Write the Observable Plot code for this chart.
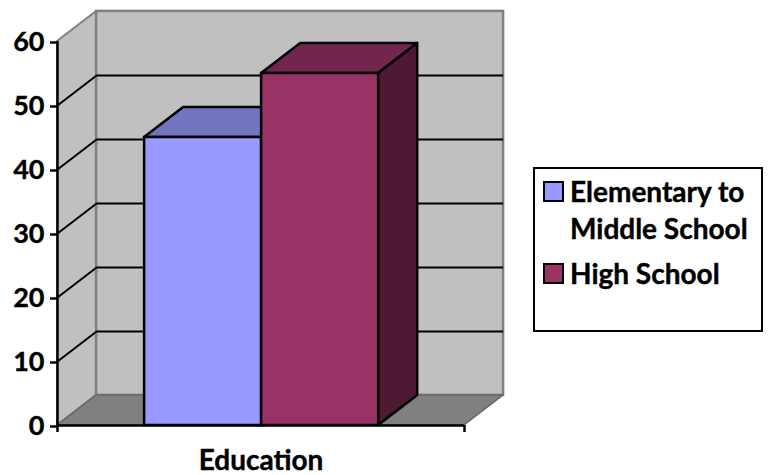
<!DOCTYPE html>
<html>
<head>
<meta charset="utf-8">
<script src="https://cdn.jsdelivr.net/npm/d3@7"></script>
<script src="https://cdn.jsdelivr.net/npm/@observablehq/plot@0.6"></script>
<style>
  html, body { margin: 0; padding: 0; background: #fff; }
  #chart { position: relative; width: 768px; height: 475px; overflow: hidden; font-family: Lato, sans-serif; font-weight: 700; color: #000; }
  #chart svg text { stroke: #000; stroke-width: 0.4px; }
  #legend { position: absolute; left: 533px; top: 167px; width: 226px; height: 161px; border: 2px solid #000; background: #fff; box-sizing: content-box; }
  .entry { position: absolute; left: 8px; display: flex; align-items: flex-start; }
  .swatch { width: 17px; height: 17px; border: 2px solid #000; flex: none; }
  .label { margin-left: 6px; width: 196px; font-size: 28px; line-height: 37px; margin-top: -8px; -webkit-text-stroke: 0.4px #000; }
</style>
</head>
<body>
<div id="chart"></div>
<script>
const categories = ["Elementary to Middle School", "High School"];
const values = [45, 55];
const fills = ["#9999FF", "#993366"];
const topFills = ["#7373BF", "#73264D"];
const sideFills = ["#4D1933", "#4D1933"];
const yTicks = [0, 10, 20, 30, 40, 50, 60];
const axisTitle = "Education";

// Extents of the box, in scale units: x spans one category slot, y the value axis.
const yMax = 60;
const depthX = 0.096;
const depthY = 4.7;
const barStart = 0.214;
const barWidth = 0.2875;

const bars = categories.map((name, i) => ({
  name,
  value: values[i],
  x1: barStart + i * barWidth,
  x2: barStart + (i + 1) * barWidth,
  fill: fills[i],
  top: topFills[i],
  side: sideFills[i]
}));

// Walls and floor of the box
const sideWall = [
  {x: 0, y1: 0, y2: yMax},
  {x: depthX, y1: depthY, y2: yMax + depthY}
];
const floor = [
  {y: 0, x1: 0, x2: 1},
  {y: depthY, x1: depthX, x2: 1 + depthX}
];
const innerTicks = yTicks.filter((t) => t > 0 && t < yMax);

// Each bar is three faces; the top and side are sheared by the box depth.
const barMarks = bars.flatMap((b) => [
  Plot.areaX(
    [{y: b.value, x1: b.x1, x2: b.x2}, {y: b.value + depthY, x1: b.x1 + depthX, x2: b.x2 + depthX}],
    {y: "y", x1: "x1", x2: "x2", fill: b.top, stroke: "#000", strokeWidth: 2.5}
  ),
  Plot.areaY(
    [{x: b.x2, y1: 0, y2: b.value}, {x: b.x2 + depthX, y1: depthY, y2: b.value + depthY}],
    {x: "x", y1: "y1", y2: "y2", fill: b.side, stroke: "#000", strokeWidth: 2.5}
  ),
  Plot.rect([b], {x1: "x1", x2: "x2", y1: 0, y2: "value", fill: b.fill, stroke: "#000", strokeWidth: 2.5})
]);

const plot = Plot.plot({
  width: 768,
  height: 475,
  marginLeft: 57,
  marginRight: 304,
  marginTop: 41,
  marginBottom: 50,
  style: {background: "transparent", fontFamily: "Lato, sans-serif", fontWeight: 700, color: "#000", overflow: "visible"},
  x: {type: "linear", domain: [0, 1], axis: null},
  y: {type: "linear", domain: [0, yMax], axis: null},
  marks: [
    Plot.areaY(sideWall, {x: "x", y1: "y1", y2: "y2", fill: "#C0C0C0", stroke: "#808080", strokeWidth: 2}),
    Plot.rect([{}], {x1: depthX, x2: 1 + depthX, y1: depthY, y2: yMax + depthY, fill: "#C0C0C0", stroke: "#808080", strokeWidth: 2.5}),
    Plot.areaX(floor, {y: "y", x1: "x1", x2: "x2", fill: "#808080", stroke: "#666", strokeWidth: 1.5}),
    Plot.ruleY(innerTicks, {y: (d) => d + depthY, x1: depthX, x2: 1 + depthX, stroke: "#000", strokeWidth: 2}),
    Plot.link(innerTicks, {x1: 0, x2: depthX, y1: (d) => d, y2: (d) => d + depthY, stroke: "#000", strokeWidth: 2}),
    ...barMarks,
    // Front edges of the box and the axes
    Plot.ruleX([0], {y1: 0, y2: yMax, stroke: "#000", strokeWidth: 2.5}),
    Plot.ruleY([0], {x1: 0, x2: 1, stroke: "#000", strokeWidth: 2.5}),
    Plot.axisY(yTicks, {anchor: "left", tickSize: 7, tickPadding: 6, strokeWidth: 2.5, fontSize: 27, fontWeight: 700, fill: "#000", stroke: "#000", dy: 1}),
    Plot.axisX([0, 1], {anchor: "bottom", tickSize: 7, tickFormat: () => "", strokeWidth: 2.5, stroke: "#000"}),
    Plot.text([axisTitle], {x: 0.5, y: 0, dy: 36, text: (d) => d, fontSize: 28, fontWeight: 700, fill: "#000", textAnchor: "middle", lineAnchor: "middle"})
  ]
});
const chart = document.getElementById("chart");
chart.appendChild(plot);

// Legend box to the right of the plot
const legend = document.createElement("div");
legend.id = "legend";
const entryTops = [12, 94];
categories.forEach((name, i) => {
  const entry = document.createElement("div");
  entry.className = "entry";
  entry.style.top = entryTops[i] + "px";
  const swatch = document.createElement("div");
  swatch.className = "swatch";
  swatch.style.background = fills[i];
  const label = document.createElement("div");
  label.className = "label";
  label.textContent = name;
  entry.append(swatch, label);
  legend.appendChild(entry);
});
chart.appendChild(legend);
</script>
</body>
</html>
